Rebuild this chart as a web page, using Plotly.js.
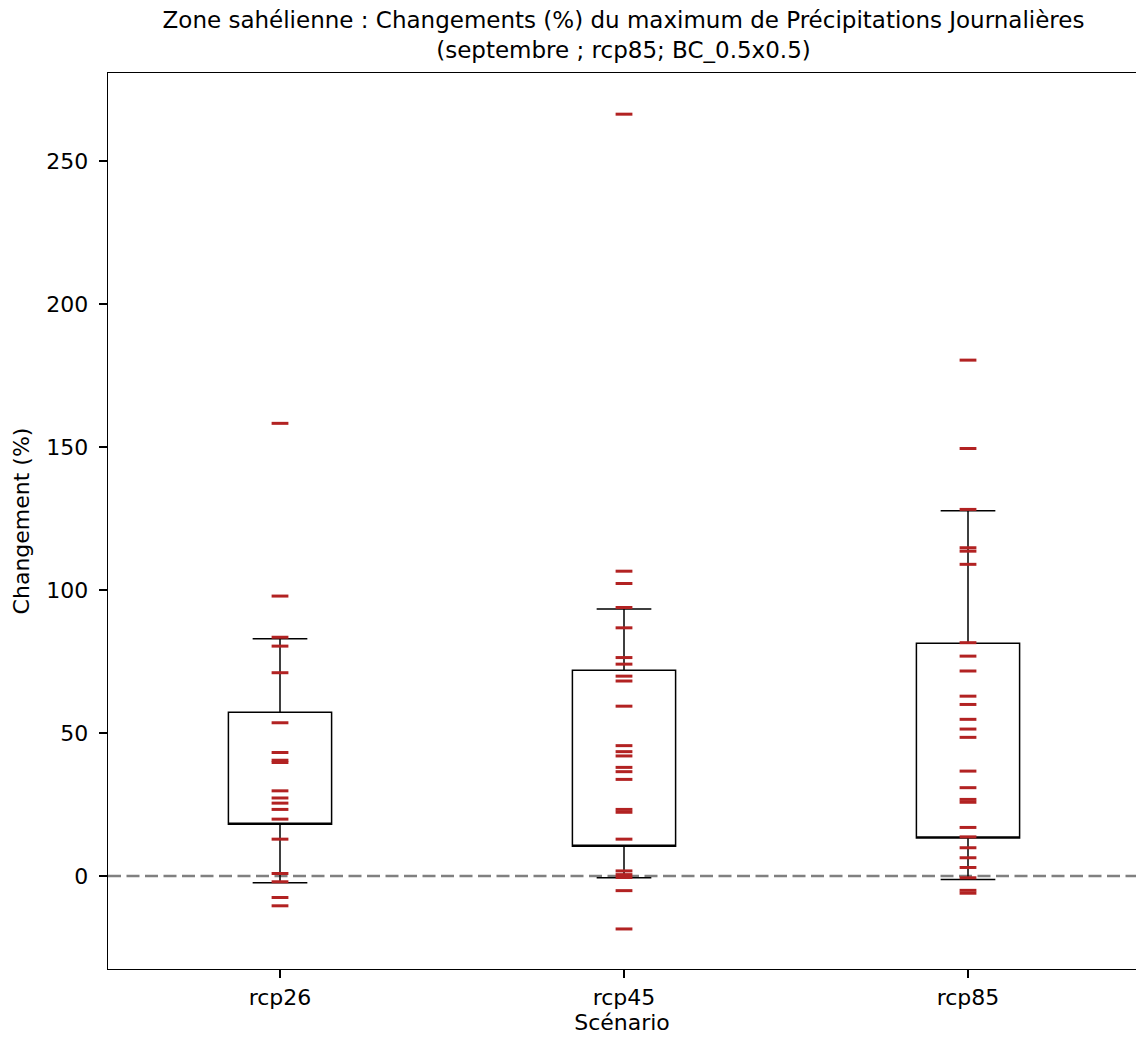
<!DOCTYPE html>
<html>
<head>
<meta charset="utf-8">
<script src="https://cdn.plot.ly/plotly-3.0.1.min.js"></script>
<style>html,body{margin:0;padding:0;background:#fff;overflow:hidden;}</style>
</head>
<body>
<div id="chart" style="width:1136px;height:1039px;"></div>
<script>
// Scenarios (x categories)
const scenarios = ["rcp26", "rcp45", "rcp85"];

// Individual model changes (%) per scenario
const valuesRcp26 = [158.3, 97.9, 83.5, 80.4, 71.1, 53.6, 43.2, 40.5, 39.7, 29.8, 27.3, 25.5, 23.3, 19.9, 12.9, 0.9, -2.0, -7.5, -10.4];
const valuesRcp45 = [266.4, 106.6, 102.3, 93.9, 86.8, 76.4, 74.1, 69.9, 68.2, 59.4, 45.6, 43.5, 42.0, 38.0, 36.5, 33.8, 23.3, 22.3, 12.9, 1.8, 0.5, -0.5, -5.1, -18.5];
const valuesRcp85 = [180.4, 149.5, 128.2, 114.8, 113.6, 109.0, 81.6, 76.9, 71.7, 62.9, 60.0, 54.8, 51.4, 48.5, 36.7, 30.9, 26.8, 25.8, 17.0, 13.7, 9.9, 6.4, 3.0, -0.6, -5.0, -6.0];

// Box statistics as drawn (no median line is visible in the picture)
const boxQ1 = [18.1, 10.4, 13.3];
const boxQ3 = [57.3, 72.0, 81.4];
const whiskerLow = [-2.3, -0.6, -1.2];
const whiskerHigh = [83.0, 93.4, 127.7];

// Y tick values
const yTicks = [0, 50, 100, 150, 200, 250];

const allValues = [valuesRcp26, valuesRcp45, valuesRcp85];
const xs = [], ys = [];
allValues.forEach((vals, i) => vals.forEach(v => { xs.push(scenarios[i]); ys.push(v); }));

const font = "DejaVu Sans, sans-serif";
const fs = 22;

const traces = [
  {
    type: "box",
    x: scenarios,
    q1: boxQ1,
    median: boxQ1,
    q3: boxQ3,
    lowerfence: whiskerLow,
    upperfence: whiskerHigh,
    width: 0.3,
    whiskerwidth: 0.53,
    boxpoints: false,
    fillcolor: "rgba(0,0,0,0)",
    line: {color: "#000000", width: 1.5},
    hoverinfo: "skip",
    showlegend: false
  },
  {
    type: "scatter",
    mode: "markers",
    x: xs,
    y: ys,
    marker: {symbol: "line-ew", size: 12, color: "#b22222", line: {color: "#b22222", width: 3}},
    showlegend: false
  }
];

const layout = {
  width: 1136,
  height: 1039,
  margin: {l: 108, r: 0, t: 73, b: 70},
  paper_bgcolor: "#ffffff",
  plot_bgcolor: "#ffffff",
  font: {family: font, color: "#000000", size: fs},
  title: {
    text: "Zone sahélienne : Changements (%) du maximum de Précipitations Journalières<br>(septembre ; rcp85; BC_0.5x0.5)",
    font: {family: font, size: 23, color: "#000000"},
    xref: "container", x: 623.5 / 1136, xanchor: "center",
    yref: "paper", y: 1, yanchor: "bottom",
    pad: {b: 45}
  },
  xaxis: {
    type: "category",
    categoryarray: scenarios,
    range: [-0.5, -0.5 + 1028 / 344],
    showgrid: false,
    zeroline: false,
    showline: true, mirror: true, linecolor: "#000000", linewidth: 1.4,
    ticks: "outside", ticklen: 8, tickwidth: 1.4, tickcolor: "#000000",
    ticklabelstandoff: 0,
    tickfont: {family: font, size: fs, color: "#000000"},
    title: {text: "Scénario", font: {family: font, size: fs, color: "#000000"}, standoff: 6},
    automargin: false
  },
  yaxis: {
    range: [-32.5, 280.8],
    tickvals: yTicks,
    showgrid: false,
    zeroline: false,
    showline: true, mirror: false, linecolor: "#000000", linewidth: 1.4,
    ticks: "outside", ticklen: 8, tickwidth: 1.4, tickcolor: "#000000",
    ticklabelstandoff: 6,
    tickfont: {family: font, size: fs, color: "#000000"},
    title: {text: "Changement (%)", font: {family: font, size: fs, color: "#000000"}, standoff: 10},
    automargin: false
  },
  shapes: [
    {type: "line", xref: "paper", x0: 0, x1: 1, yref: "y", y0: 0, y1: 0,
     line: {color: "#808080", width: 2.5, dash: "13px,5.5px"}, layer: "below"}
  ]
};

Plotly.newPlot("chart", traces, layout, {displayModeBar: false, staticPlot: true});
</script>
</body>
</html>
